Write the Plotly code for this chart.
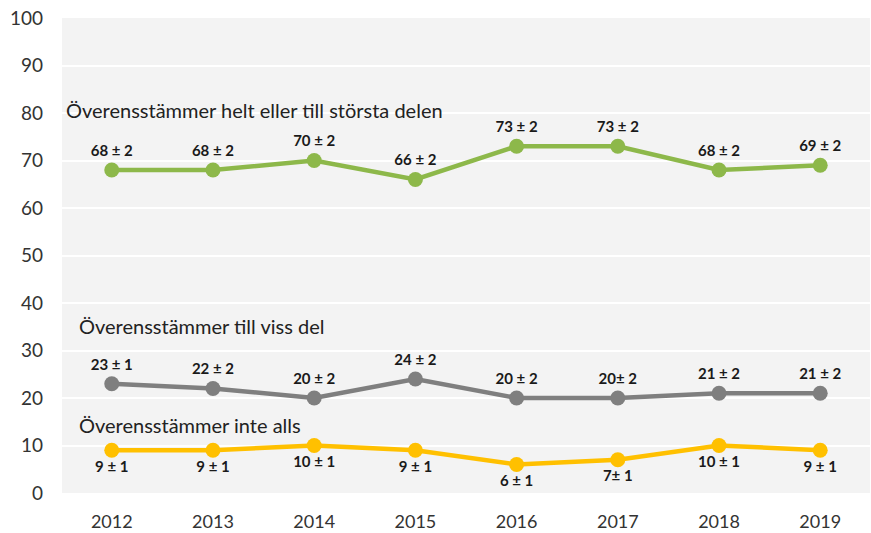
import plotly.graph_objects as go

years = ["2012", "2013", "2014", "2015", "2016", "2017", "2018", "2019"]
helt = [68, 68, 70, 66, 73, 73, 68, 69]
helt_lbl = ["68 ± 2", "68 ± 2", "70 ± 2", "66 ± 2", "73 ± 2", "73 ± 2", "68 ± 2", "69 ± 2"]
viss = [23, 22, 20, 24, 20, 20, 21, 21]
viss_lbl = ["23 ± 1", "22 ± 2", "20 ± 2", "24 ± 2", "20 ± 2", "20± 2", "21 ± 2", "21 ± 2"]
inte = [9, 9, 10, 9, 6, 7, 10, 9]
inte_lbl = ["9 ± 1", "9 ± 1", "10 ± 1", "9 ± 1", "6 ± 1", "7± 1", "10 ± 1", "9 ± 1"]
names = ["Överensstämmer helt eller till största delen",
         "Överensstämmer till viss del",
         "Överensstämmer inte alls"]
yticks = [0, 10, 20, 30, 40, 50, 60, 70, 80, 90, 100]

FONT = "Lato, Carlito, Calibri, sans-serif"
fig = go.Figure()
series = [
    (helt, helt_lbl, "#8DB84A", "top center"),
    (viss, viss_lbl, "#7F7F7F", "top center"),
    (inte, inte_lbl, "#FFC000", "bottom center"),
]
for (vals, lbls, col, pos), nm in zip(series, names):
    fig.add_trace(go.Scatter(
        x=years, y=vals, name=nm, mode="lines+markers+text",
        line=dict(color=col, width=4.5),
        marker=dict(color=col, size=15),
        text=lbls, textposition=pos,
        textfont=dict(family=FONT, size=15, color="#1a1a1a", weight="bold"),
        cliponaxis=False,
    ))

ann = [(names[0], 80.6, 0.002), (names[1], 35.2, 0.019), (names[2], 14.3, 0.019)]
for txt, yv, xp in ann:
    fig.add_annotation(x=xp, xref="paper", y=yv, yref="y", text=txt,
                       showarrow=False, xanchor="left", yanchor="middle",
                       font=dict(family=FONT, size=20, color="#222222"))

fig.update_layout(
    width=871, height=533,
    margin=dict(l=62, r=1, t=18, b=40),
    paper_bgcolor="white", plot_bgcolor="#F3F3F3",
    showlegend=False,
    font=dict(family=FONT),
)
fig.update_xaxes(showgrid=False, zeroline=False, showline=False, ticks="",
                 automargin=False, ticklabelstandoff=16,
                 tickfont=dict(family=FONT, size=18, color="#333333"))
fig.update_yaxes(range=[0, 100], tickvals=yticks, showgrid=True, gridcolor="white",
                 gridwidth=2, zeroline=False, showline=False, ticks="",
                 automargin=False, ticklabelstandoff=18,
                 tickfont=dict(family=FONT, size=19, color="#333333"))
# remove the default 8px page margin so the figure fills the window
fig.write_html("out.html", config={"displayModeBar": False},
               post_script="document.body.style.margin='0px';")
